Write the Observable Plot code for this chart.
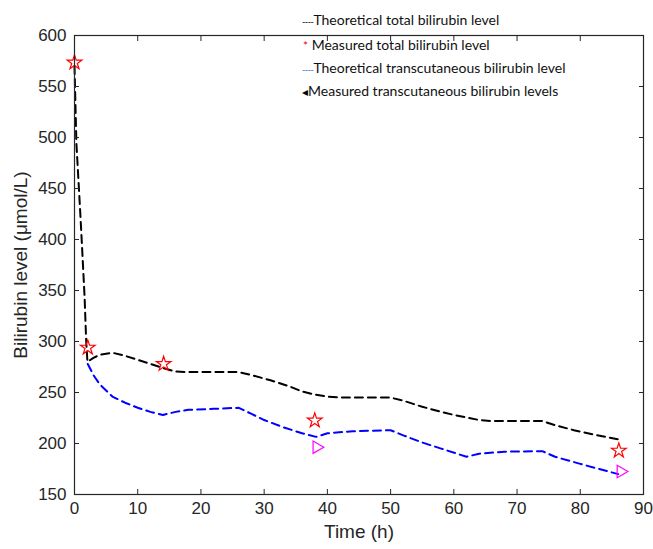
<!DOCTYPE html>
<html>
<head>
<meta charset="utf-8">
<script src="https://cdn.jsdelivr.net/npm/d3@7"></script>
<script src="https://cdn.jsdelivr.net/npm/@observablehq/plot@0.6"></script>
<style>
  html, body { margin: 0; padding: 0; background: #fff; }
  #wrap { position: relative; width: 653px; height: 549px; }
  #wrap svg, #wrap svg text { font-family: "Liberation Sans", Arial, Helvetica, sans-serif !important; }
  #wrap svg g[aria-label="x-axis label"] text, #wrap svg g[aria-label="y-axis label"] text { font-size: 19px; }
  .leg { position: absolute; font-family: Lato, "Open Sans", sans-serif; font-size: 14px; color: #111; white-space: nowrap; line-height: 16px; }
  .leg span.sym { display: inline-block; }
</style>
</head>
<body>
<div id="wrap"></div>
<script>
// Tick values
const xTicks = [0, 10, 20, 30, 40, 50, 60, 70, 80, 90];
const yTicks = [150, 200, 250, 300, 350, 400, 450, 500, 550, 600];

// Theoretical total bilirubin (black dashed)
const totalTime = [0, 0.3, 0.7, 1.06, 1.6, 1.85, 2.05, 3, 4, 6, 8, 10, 12, 14, 16, 18, 26, 28, 31, 34, 36, 38, 40, 42, 50, 52, 55, 58, 60, 62, 64, 66, 74, 76, 79, 82, 86];
const totalLevel = [570, 494, 450, 409, 343, 300, 280, 284, 287, 289, 286, 282, 278, 274, 270.5, 270, 270, 267, 262, 256, 251, 248, 246, 245.2, 245, 242, 236, 231, 228, 225.5, 223, 222, 222, 218, 213, 209, 204];

// Theoretical transcutaneous bilirubin (blue dashed)
const tcTime = [2.1, 3, 4, 6, 8, 10, 12, 14, 16, 18, 22, 26, 28, 30, 33, 36, 38.2, 40, 44, 50, 52, 55, 58, 62, 64, 68, 74, 76, 80, 83, 86];
const tcLevel = [278, 267, 258, 246, 240, 235, 231, 228, 231, 233, 234, 235, 229, 223, 216, 210, 206.5, 210, 212, 213, 208, 201, 195, 187, 190, 192, 192.5, 187, 180, 175, 170];

// Measured total bilirubin (red stars)
const measTotalTime = [0, 2.1, 14.1, 38, 86.1];
const measTotalLevel = [573.5, 294, 278, 222.5, 193];

// Measured transcutaneous bilirubin (magenta triangles)
const measTcTime = [38.3, 86.4];
const measTcLevel = [196.4, 172.5];

const totalData = totalTime.map((t, i) => ({t, v: totalLevel[i]}));
const tcData = tcTime.map((t, i) => ({t, v: tcLevel[i]}));
const mTotal = measTotalTime.map((t, i) => ({t, v: measTotalLevel[i]}));
const mTc = measTcTime.map((t, i) => ({t, v: measTcLevel[i]}));

const chart = Plot.plot({
  width: 653,
  height: 549,
  marginLeft: 74,
  marginRight: 10,
  marginTop: 35,
  marginBottom: 55,
  style: {fontFamily: "Liberation Sans, Arial, sans-serif", fontSize: "17px", color: "#262626", background: "white", overflow: "visible"},
  x: {domain: [0, 90]},
  y: {domain: [150, 600]},
  marks: [
    Plot.line(totalData, {x: "t", y: "v", stroke: "#000", strokeWidth: 2, strokeDasharray: "8,5", curve: "linear"}),
    Plot.line(tcData, {x: "t", y: "v", stroke: "#0000ff", strokeWidth: 2, strokeDasharray: "8,5", curve: "linear"}),
    Plot.dot(mTotal, {x: "t", y: "v", symbol: "star", r: 4.6, stroke: "#ff0000", strokeWidth: 1.2, fill: "none"}),
    Plot.dot(mTc, {x: "t", y: "v", symbol: "triangle", rotate: 90, r: 4.6, stroke: "#ff00ff", strokeWidth: 1.2, fill: "none"}),
    Plot.frame({stroke: "#262626", strokeWidth: 1.2}),
    Plot.axisX({anchor: "bottom", ticks: xTicks, tickSize: -5, tickPadding: 12, label: "Time (h)", labelAnchor: "center", labelOffset: 43, labelArrow: "none", stroke: "#262626"}),
    Plot.axisX({anchor: "top", ticks: xTicks, tickSize: -5, tickFormat: () => "", label: null, stroke: "#262626"}),
    Plot.axisY({anchor: "left", ticks: yTicks, tickSize: -5, tickPadding: 13, label: "Bilirubin level (μmol/L)", labelAnchor: "center", labelOffset: 61, labelArrow: "none", stroke: "#262626"}),
    Plot.axisY({anchor: "right", ticks: yTicks, tickSize: -5, tickFormat: () => "", label: null, stroke: "#262626"})
  ]
});

const wrap = document.getElementById("wrap");
wrap.appendChild(chart);

// Legend (overlaid text)
const legendItems = [
  {sym: "----", color: "#000", label: "Theoretical total bilirubin level", top: 12, left: 302},
  {sym: "*", color: "#ff0000", label: " Measured total bilirubin level", top: 37, left: 303},
  {sym: "----", color: "#1a6fe0", label: "Theoretical transcutaneous bilirubin level", top: 60, left: 302},
  {sym: "◂", color: "#000", label: "Measured transcutaneous bilirubin levels", top: 83, left: 302}
];
for (const it of legendItems) {
  const d = document.createElement("div");
  d.className = "leg";
  d.style.top = it.top + "px";
  d.style.left = it.left + "px";
  const s = document.createElement("span");
  s.className = "sym";
  s.style.color = it.color;
  s.style.fontSize = it.sym === "----" ? "9px" : "12px";
  s.style.letterSpacing = it.sym === "----" ? "-0.5px" : "0";
  s.textContent = it.sym;
  d.appendChild(s);
  d.appendChild(document.createTextNode(it.label));
  wrap.appendChild(d);
}
</script>
</body>
</html>
